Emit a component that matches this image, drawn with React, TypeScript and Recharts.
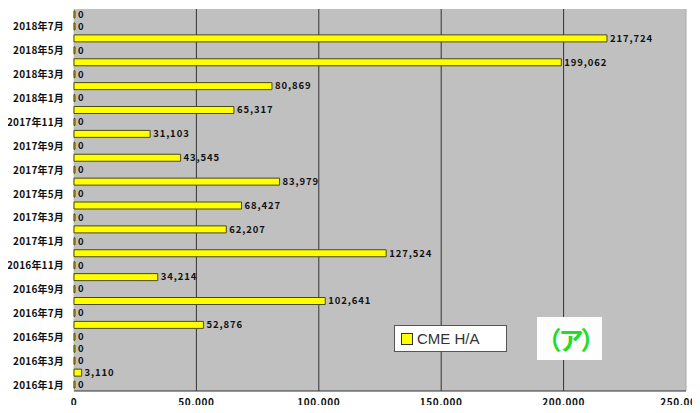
import React from "react";
import { BarChart, Bar, XAxis, YAxis, CartesianGrid, LabelList } from "recharts";

const months = [
  "2016年1月", "2016年2月", "2016年3月", "2016年4月", "2016年5月", "2016年6月",
  "2016年7月", "2016年8月", "2016年9月", "2016年10月", "2016年11月", "2016年12月",
  "2017年1月", "2017年2月", "2017年3月", "2017年4月", "2017年5月", "2017年6月",
  "2017年7月", "2017年8月", "2017年9月", "2017年10月", "2017年11月", "2017年12月",
  "2018年1月", "2018年2月", "2018年3月", "2018年4月", "2018年5月", "2018年6月",
  "2018年7月", "2018年8月",
];
const cmeHA = [
  0, 3110, 0, 0, 0, 52876,
  0, 102641, 0, 34214, 0, 127524,
  0, 62207, 0, 68427, 0, 83979,
  0, 43545, 0, 31103, 0, 65317,
  0, 80869, 0, 199062, 0, 217724,
  0, 0,
];
const xTicks = [0, 50000, 100000, 150000, 200000, 250000];
const seriesName = "CME H/A";
const badge = "（ア）";

const data = months.map((m, i) => ({ month: m, value: cmeHA[i] }));

const fmt = (v: any) => Number(v).toLocaleString("en-US");

const tickFont = "'Noto Sans CJK JP', 'DejaVu Sans', sans-serif";

const ValueLabel = (p: any) => {
  const x = Number(p.x) + Number(p.width || 0) + 3;
  const y = Number(p.y) + Number(p.height || 0) / 2;
  return (
    <text
      x={x}
      y={y}
      dy="0.35em"
      textAnchor="start"
      style={{ fontSize: 9.5, fontWeight: "bold", fill: "#111", fontFamily: tickFont, letterSpacing: 0.9 }}
    >
      {fmt(p.value)}
    </text>
  );
};

export default function App() {
  return (
    <div style={{ margin: -8, width: 700, height: 413, position: "relative", overflow: "hidden", background: "#fff" }}>
      <BarChart
        width={700}
        height={413}
        data={data}
        layout="vertical"
        margin={{ top: 9, right: 14, bottom: 0, left: 0 }}
      >
        <CartesianGrid
          horizontal={false}
          fill="#c0c0c0"
          vertical={(p: any) => {
            const last = p.index === xTicks.length - 1;
            const first = p.index === 0;
            return (
              <line
                key={p.key}
                x1={p.x1}
                x2={p.x2}
                y1={p.y1}
                y2={p.y2}
                stroke={first ? "#c0c0c0" : last ? "#a8a8a8" : "#333333"}
                strokeWidth={1}
              />
            );
          }}
        />
        <XAxis
          type="number"
          domain={[0, 250000]}
          ticks={xTicks}
          tickFormatter={fmt}
          height={22}
          axisLine={{ stroke: "#333333" }}
          tickLine={false}
          tick={{ fontSize: 10, fontWeight: "bold", fill: "#111", fontFamily: tickFont, letterSpacing: 0.6 }}
        />
        <YAxis
          type="category"
          dataKey="month"
          reversed
          width={74}
          interval={1}
          axisLine={false}
          tickLine={false}
          tickMargin={4}
          tick={{ fontSize: 10, fontWeight: "bold", fill: "#111", fontFamily: tickFont, letterSpacing: 0.2 }}
        />
        <Bar
          dataKey="value"
          name={seriesName}
          barSize={7}
          minPointSize={1}
          fill="#ffff00"
          stroke="#4a4a10"
          strokeWidth={1}
          isAnimationActive={false}
        >
          <LabelList dataKey="value" content={ValueLabel} />
        </Bar>
      </BarChart>
      <div
        style={{
          position: "absolute",
          left: 394,
          top: 325,
          width: 111,
          height: 25,
          background: "#ffffff",
          border: "1px solid #555",
          display: "flex",
          alignItems: "center",
          fontFamily: "'Liberation Sans', Arial, sans-serif",
          fontSize: 15,
          color: "#333",
        }}
      >
        <span
          style={{
            display: "inline-block",
            width: 10,
            height: 10,
            background: "#ffff00",
            border: "1px solid #333",
            marginLeft: 6,
            marginRight: 4,
          }}
        />
        <span>{seriesName}</span>
      </div>
      <div
        style={{
          position: "absolute",
          left: 537,
          top: 317,
          width: 65,
          height: 43,
          background: "#fdfdfd",
          display: "flex",
          alignItems: "center",
          justifyContent: "center",
          fontFamily: "'Noto Sans CJK JP', sans-serif",
          fontWeight: "bold",
          fontSize: 25,
          color: "#22dd22",
          letterSpacing: -3,
          whiteSpace: "nowrap",
        }}
      >
        {badge}
      </div>
    </div>
  );
}
